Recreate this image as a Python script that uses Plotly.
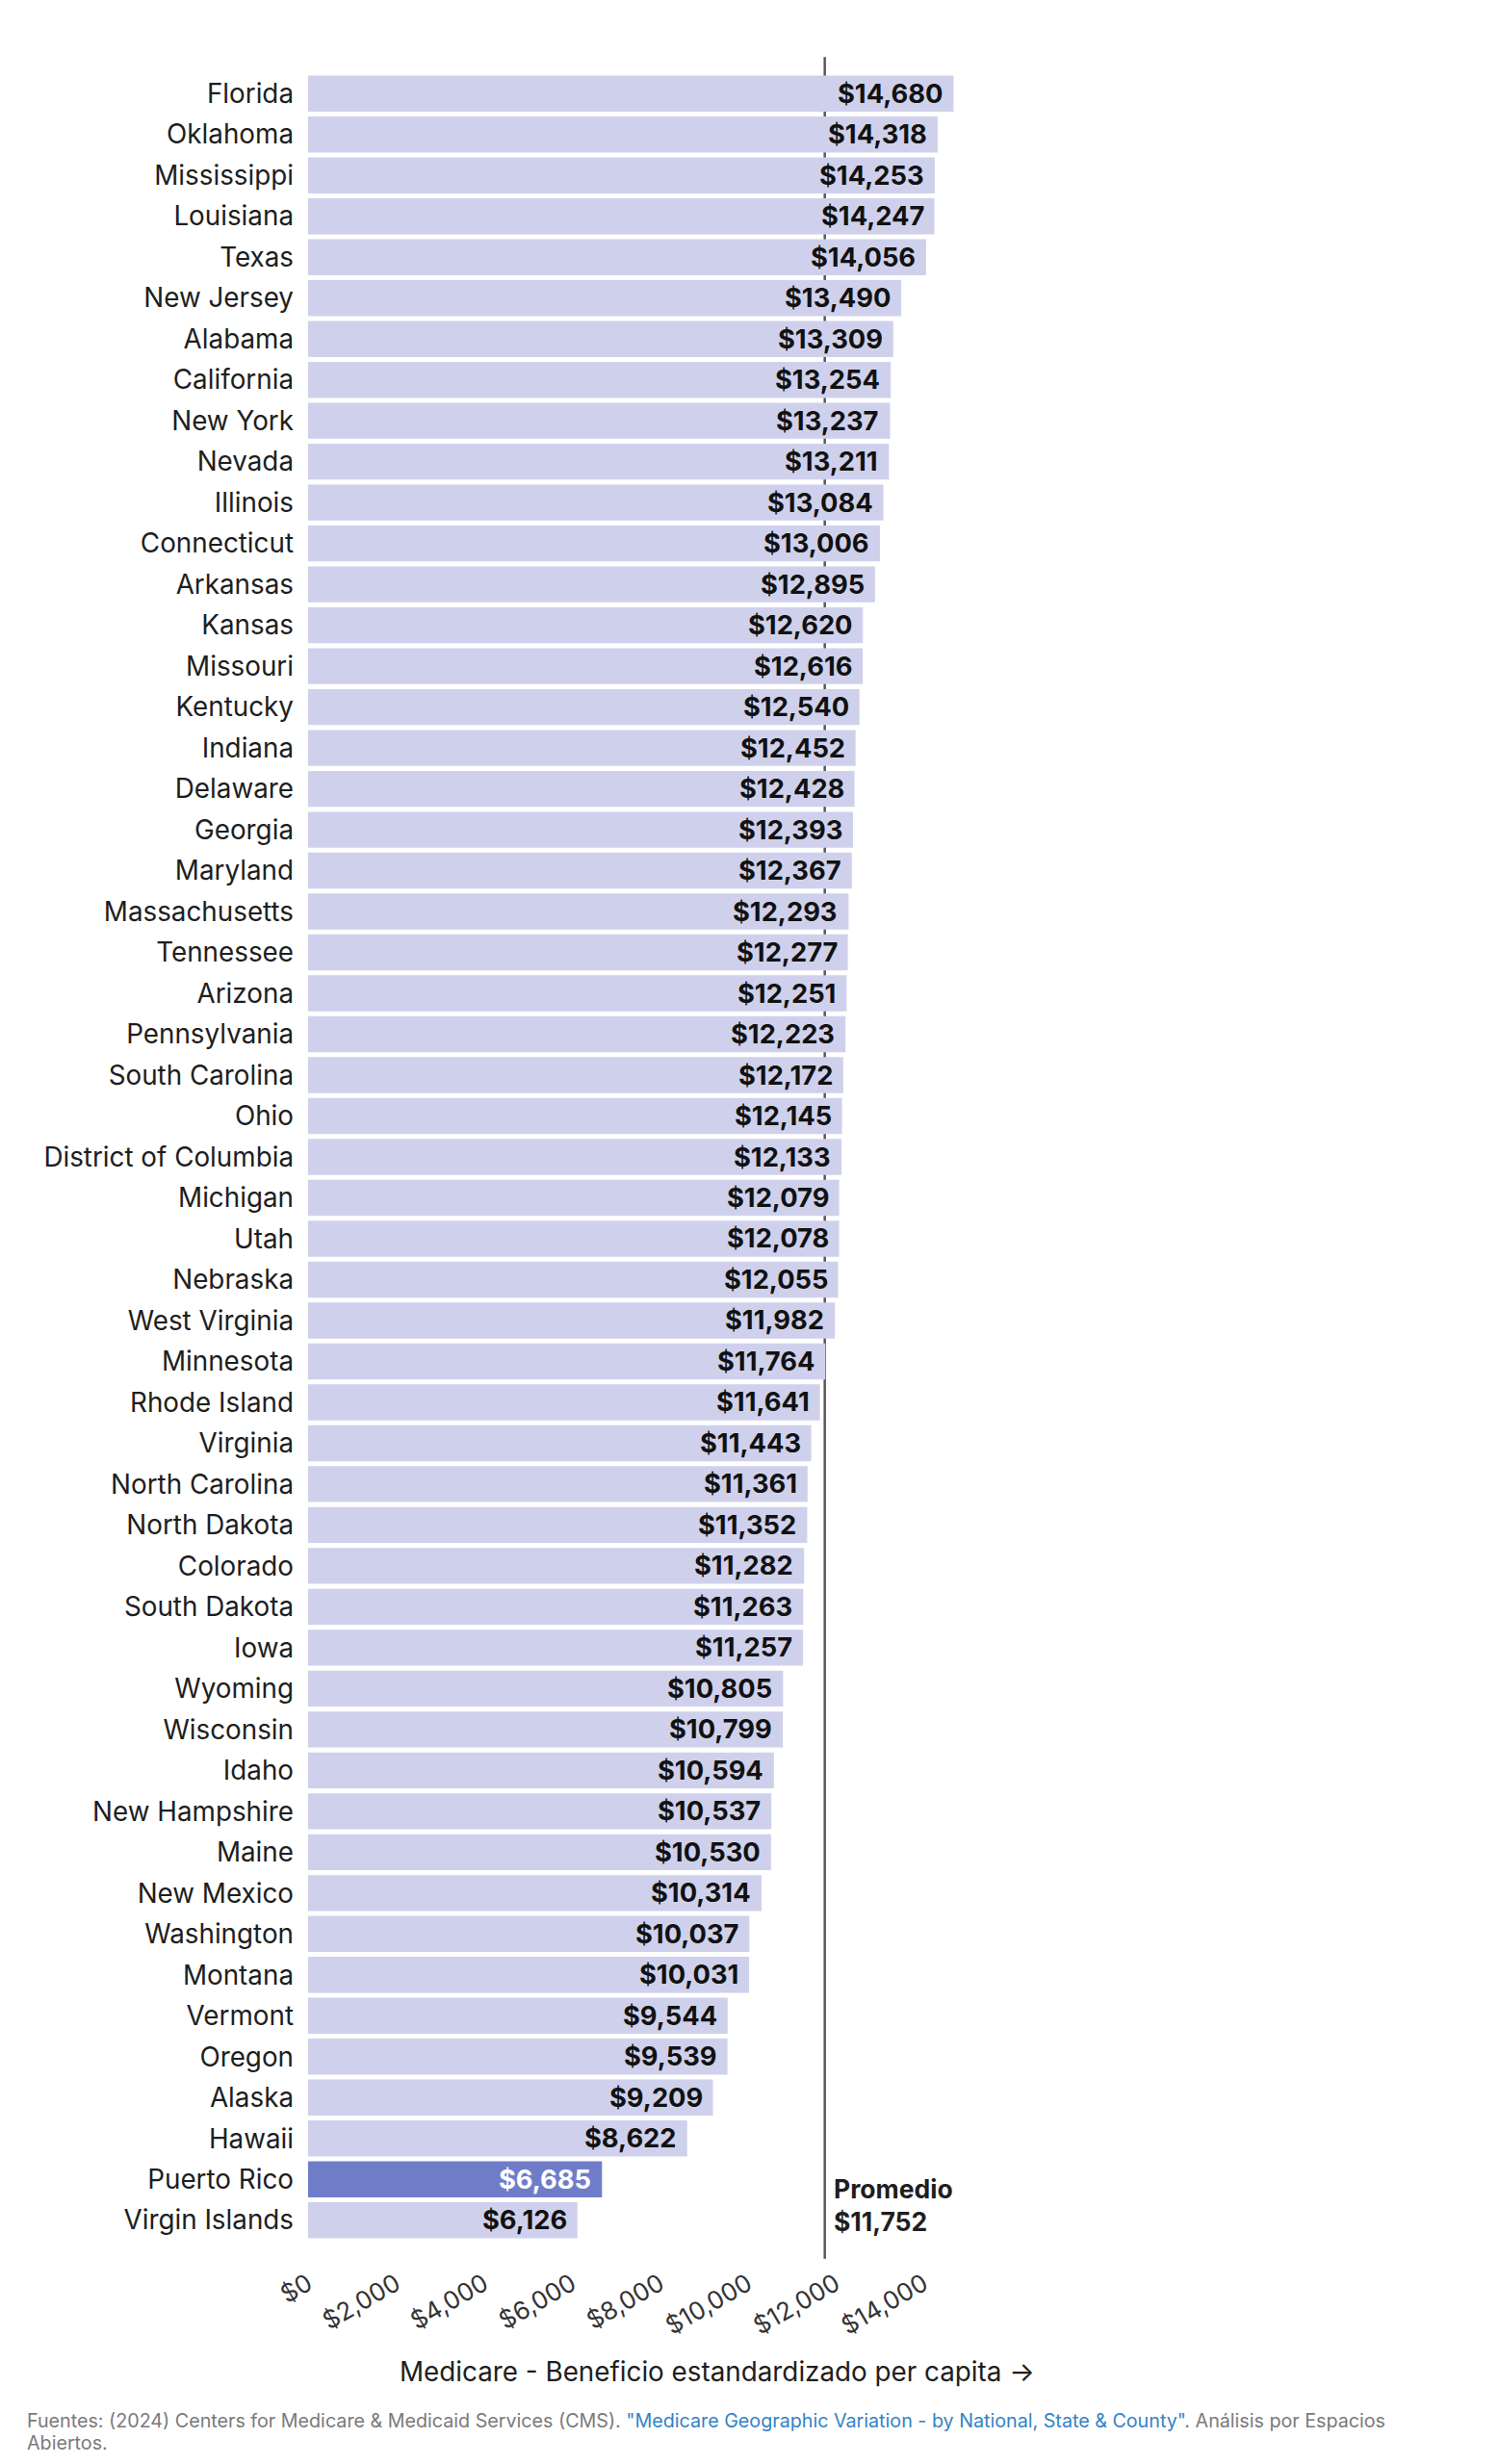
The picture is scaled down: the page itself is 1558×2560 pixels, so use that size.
import plotly.graph_objects as go

# Beneficio estandardizado per capita de Medicare (2024)
estados = [
    "Florida", "Oklahoma", "Mississippi", "Louisiana", "Texas", "New Jersey",
    "Alabama", "California", "New York", "Nevada", "Illinois", "Connecticut",
    "Arkansas", "Kansas", "Missouri", "Kentucky", "Indiana", "Delaware",
    "Georgia", "Maryland", "Massachusetts", "Tennessee", "Arizona",
    "Pennsylvania", "South Carolina", "Ohio", "District of Columbia",
    "Michigan", "Utah", "Nebraska", "West Virginia", "Minnesota",
    "Rhode Island", "Virginia", "North Carolina", "North Dakota", "Colorado",
    "South Dakota", "Iowa", "Wyoming", "Wisconsin", "Idaho", "New Hampshire",
    "Maine", "New Mexico", "Washington", "Montana", "Vermont", "Oregon",
    "Alaska", "Hawaii", "Puerto Rico", "Virgin Islands",
]
beneficio = [
    14680, 14318, 14253, 14247, 14056, 13490,
    13309, 13254, 13237, 13211, 13084, 13006,
    12895, 12620, 12616, 12540, 12452, 12428,
    12393, 12367, 12293, 12277, 12251,
    12223, 12172, 12145, 12133,
    12079, 12078, 12055, 11982, 11764,
    11641, 11443, 11361, 11352, 11282,
    11263, 11257, 10805, 10799, 10594, 10537,
    10530, 10314, 10037, 10031, 9544, 9539,
    9209, 8622, 6685, 6126,
]
promedio = 11752
destacado = "Puerto Rico"
ticks_x = [0, 2000, 4000, 6000, 8000, 10000, 12000, 14000]

FONT = "Inter, Liberation Sans, Arial, sans-serif"
CLARO = "#cfd1ec"
OSCURO = "#6f7dc9"
TEXTO = "#1e1e1e"

# geometria (px de la figura; la pagina agrega 8px de margen al body)
W, H = 1542, 2544
L, T, B = 312.3, 67.75, 223.75
X_MAX = 15000
PLOT_W = X_MAX * 0.04564
R = W - L - PLOT_W
PLOT_H = H - T - B


def px_x(x):
    return (x - 8 - L) / PLOT_W


def px_y(y):
    return (H - B - (y - 8)) / PLOT_H


colores = [OSCURO if e == destacado else CLARO for e in estados]

fig = go.Figure()
fig.add_trace(go.Bar(
    x=beneficio, y=estados, orientation="h",
    marker=dict(color=colores, line=dict(width=0)),
    width=0.88, hoverinfo="x+y", showlegend=False,
))

# etiquetas de valor dentro de cada barra
for e, v in zip(estados, beneficio):
    fig.add_annotation(
        x=v, y=e, xref="x", yref="y", text=f"<b>${v:,}</b>",
        showarrow=False, xanchor="right", xshift=-9,
        font=dict(family=FONT, size=27.3, color="white" if e == destacado else "#111111"),
    )

# linea del promedio
fig.add_shape(
    type="line", xref="x", yref="paper", x0=promedio, x1=promedio,
    y0=px_y(2347), y1=px_y(59), line=dict(color="#58585c", width=2.5), layer="below",
)
fig.add_annotation(
    x=promedio, y=px_y(2291), xref="x", yref="paper",
    text=f"<b>Promedio<br>${promedio:,}</b>",
    showarrow=False, xanchor="left", yanchor="middle", align="left", xshift=7,
    font=dict(family=FONT, size=26.5, color=TEXTO),
)

fig.add_annotation(
    x=px_x(745), y=px_y(2464), xref="paper", yref="paper",
    text="Medicare - Beneficio estandardizado per capita →",
    showarrow=False, xanchor="center", yanchor="middle",
    font=dict(family=FONT, size=27.8, color=TEXTO),
)
fig.add_annotation(
    x=px_x(26), y=px_y(2515), xref="paper", yref="paper", showarrow=False,
    text=("Fuentes: (2024) Centers for Medicare &amp; Medicaid Services (CMS). "
          "<span style='color:#3483c6'>\"Medicare Geographic Variation - by National, State &amp; County\"</span>"
          ". Análisis por Espacios"),
    xanchor="left", yanchor="middle", align="left",
    font=dict(family=FONT, size=19.7, color="#7a7a7a"),
)
fig.add_annotation(
    x=px_x(26), y=px_y(2538), xref="paper", yref="paper", showarrow=False,
    text="Abiertos.", xanchor="left", yanchor="middle", align="left",
    font=dict(family=FONT, size=19.7, color="#7a7a7a"),
)

fig.update_layout(
    width=W, height=H,
    margin=dict(l=L, r=R, t=T, b=B, pad=0),
    paper_bgcolor="white", plot_bgcolor="white",
    font=dict(family=FONT, size=27.5, color=TEXTO),
    xaxis=dict(
        range=[0, X_MAX], tickvals=ticks_x, ticktext=[f"${t:,}" for t in ticks_x],
        tickangle=-30, showgrid=False, zeroline=False, showline=False, ticks="",
        ticklabelstandoff=24, tickfont=dict(family=FONT, size=25.8, color="#333333"),
    ),
    yaxis=dict(
        categoryorder="array", categoryarray=estados, range=[52.5, -0.5],
        showgrid=False, zeroline=False, showline=False, ticks="",
        ticklabelstandoff=14, tickfont=dict(family=FONT, size=27.8, color=TEXTO),
    ),
)

fig.write_html("out.html")
